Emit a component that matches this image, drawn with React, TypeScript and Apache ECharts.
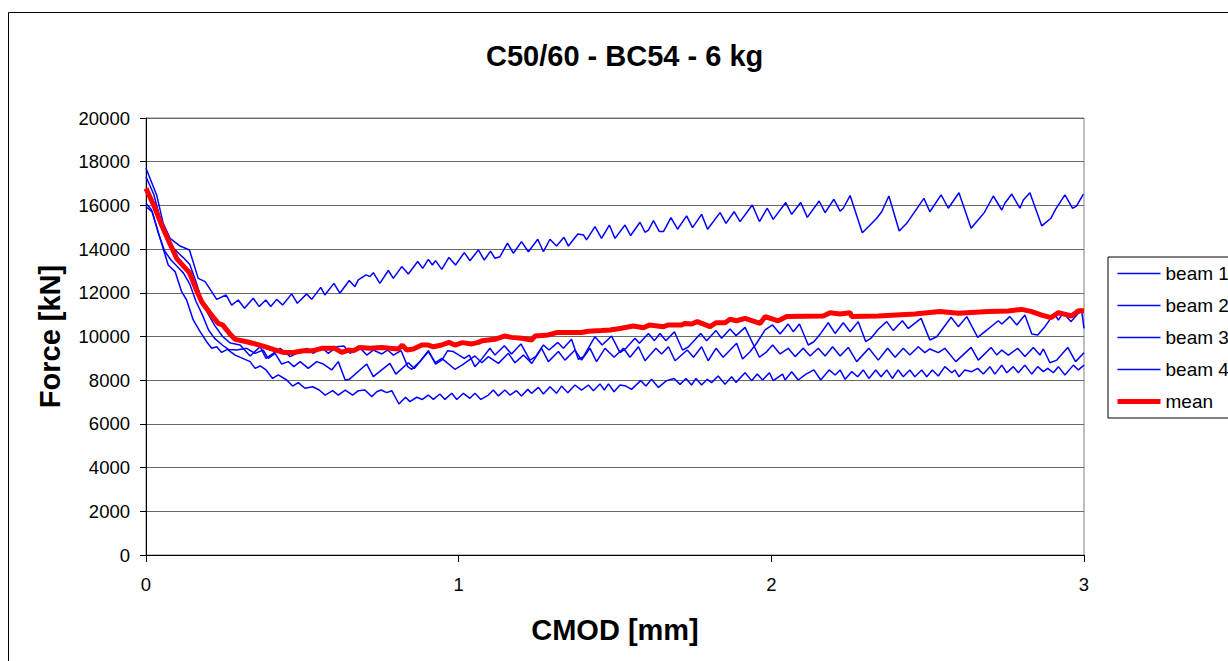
import React, { useEffect, useRef } from 'react';
import * as echarts from 'echarts';

const xTicks = [0, 1, 2, 3];
const yTicks = [0, 2000, 4000, 6000, 8000, 10000, 12000, 14000, 16000, 18000, 20000];
const seriesNames = ['beam 1', 'beam 2', 'beam 3', 'beam 4', 'mean'];

const beam1: number[][] = [[0,17700],[0.034,16480],[0.055,15180],[0.077,14490],[0.109,14140],[0.139,13960],[0.167,12660],[0.189,12510],[0.210,12050],[0.226,11700],[0.256,11900],[0.274,11440],[0.295,11670],[0.315,11290],[0.343,11750],[0.362,11370],[0.383,11670],[0.399,11370],[0.418,11700],[0.437,11440],[0.466,11950],[0.484,11520],[0.514,11950],[0.530,11700],[0.559,12250],[0.572,11900],[0.601,12430],[0.620,11980],[0.650,12560],[0.668,12280],[0.679,12590],[0.704,12820],[0.716,12740],[0.727,12920],[0.748,12430],[0.775,13020],[0.791,12660],[0.818,13200],[0.839,12860],[0.869,13430],[0.885,13120],[0.903,13530],[0.916,13270],[0.926,13470],[0.946,13070],[0.969,13620],[0.990,13270],[1.018,13840],[1.036,13470],[1.063,13960],[1.082,13500],[1.102,13910],[1.116,13580],[1.132,13650],[1.156,14270],[1.175,13810],[1.201,14340],[1.223,13880],[1.253,14450],[1.271,13880],[1.292,14450],[1.313,14140],[1.337,14540],[1.351,14140],[1.381,14690],[1.399,14650],[1.409,14420],[1.436,15030],[1.457,14490],[1.482,15100],[1.500,14490],[1.532,15100],[1.550,14620],[1.580,15230],[1.596,14770],[1.607,14870],[1.623,15300],[1.642,14800],[1.655,14800],[1.679,15440],[1.700,14910],[1.729,15520],[1.748,14980],[1.777,15590],[1.796,14910],[1.836,15670],[1.855,15180],[1.881,15710],[1.900,15260],[1.939,16020],[1.962,15260],[1.987,15870],[2.006,15360],[2.046,16130],[2.065,15590],[2.094,16130],[2.115,15450],[2.153,16200],[2.172,15670],[2.200,16280],[2.220,15740],[2.230,15870],[2.252,16450],[2.291,14750],[2.316,15100],[2.337,15410],[2.353,15710],[2.376,16430],[2.409,14830],[2.433,15180],[2.488,16320],[2.507,15710],[2.543,16480],[2.566,15870],[2.600,16580],[2.639,14950],[2.657,15260],[2.681,15670],[2.710,16430],[2.737,15790],[2.747,16100],[2.769,16520],[2.795,15870],[2.806,16250],[2.827,16580],[2.865,15060],[2.894,15410],[2.909,15820],[2.939,16480],[2.963,15870],[2.976,15970],[2.998,16520]];

const beam2: number[][] = [[0,17310],[0.025,16500],[0.045,15400],[0.065,14700],[0.085,14100],[0.105,13800],[0.12,13600],[0.14,13300],[0.16,12500],[0.18,11600],[0.2,11000],[0.22,10500],[0.245,10000],[0.27,9700],[0.301,9610],[0.333,9110],[0.365,9530],[0.384,9000],[0.407,9230],[0.429,9460],[0.461,9080],[0.482,9230],[0.514,9460],[0.535,9230],[0.562,9500],[0.583,9230],[0.610,9530],[0.633,9560],[0.653,9230],[0.679,9560],[0.706,9150],[0.727,9380],[0.754,9200],[0.773,9380],[0.791,9150],[0.816,9350],[0.837,8620],[0.850,8500],[0.876,8850],[0.903,9350],[0.926,8740],[0.946,8920],[0.965,9350],[0.983,9310],[1.018,9000],[1.034,9150],[1.052,8620],[1.071,8920],[1.100,9460],[1.116,9150],[1.146,9580],[1.169,9200],[1.199,9660],[1.228,8920],[1.246,9080],[1.271,9610],[1.289,9380],[1.317,9730],[1.335,9460],[1.361,9870],[1.383,8950],[1.399,9080],[1.436,9990],[1.459,9610],[1.489,10020],[1.516,9260],[1.535,9460],[1.564,9920],[1.578,9690],[1.607,10140],[1.626,9810],[1.644,10140],[1.663,9810],[1.690,10220],[1.716,9380],[1.735,9530],[1.774,10140],[1.793,9810],[1.823,10270],[1.841,9920],[1.868,10340],[1.887,10040],[1.916,10420],[1.962,9050],[1.985,9300],[2.004,9610],[2.028,9200],[2.054,9460],[2.076,9080],[2.102,9460],[2.124,9110],[2.150,9460],[2.172,9110],[2.196,9530],[2.220,9110],[2.246,9500],[2.273,8850],[2.312,9460],[2.342,8920],[2.372,9460],[2.396,9050],[2.422,9460],[2.443,9150],[2.470,9530],[2.491,9260],[2.507,9430],[2.534,9260],[2.555,9460],[2.590,8850],[2.639,9500],[2.662,8920],[2.703,9500],[2.721,9150],[2.737,9380],[2.758,9150],[2.788,9460],[2.811,9080],[2.838,9500],[2.859,9150],[2.870,9430],[2.891,8800],[2.913,8920],[2.948,9500],[2.973,8850],[3.0,9260]];

const beam3: number[][] = [[0,15940],[0.02,15700],[0.04,14700],[0.06,13900],[0.08,13500],[0.1,13200],[0.12,12900],[0.14,12400],[0.16,11600],[0.18,11000],[0.2,10300],[0.22,9900],[0.245,9600],[0.265,9400],[0.290,9380],[0.322,9460],[0.349,9230],[0.375,9380],[0.391,9000],[0.413,9230],[0.434,8740],[0.455,8850],[0.473,8620],[0.493,8850],[0.519,8540],[0.546,8850],[0.567,8740],[0.594,8470],[0.615,8850],[0.637,8010],[0.650,8040],[0.706,8740],[0.727,8160],[0.780,8770],[0.799,8280],[0.839,8800],[0.858,8540],[0.903,9310],[0.926,8800],[0.946,9000],[0.988,8500],[1.012,8700],[1.052,9110],[1.074,8800],[1.095,9080],[1.127,8770],[1.159,9230],[1.180,8800],[1.207,9150],[1.234,8770],[1.265,9460],[1.287,8850],[1.319,9310],[1.340,8920],[1.372,9380],[1.393,8920],[1.420,9460],[1.441,8850],[1.468,9460],[1.497,9050],[1.527,9460],[1.548,9050],[1.575,9530],[1.596,8890],[1.631,9460],[1.649,9200],[1.671,9530],[1.692,8890],[1.731,9380],[1.751,9050],[1.777,9530],[1.798,8890],[1.823,9460],[1.846,9050],[1.889,9690],[1.908,8970],[1.932,9300],[1.953,9690],[1.980,10300],[2.004,10530],[2.028,10110],[2.054,10570],[2.070,10220],[2.090,10570],[2.118,9610],[2.136,9760],[2.158,10140],[2.182,10630],[2.204,10140],[2.230,10630],[2.252,10220],[2.278,10680],[2.302,9760],[2.319,9920],[2.342,10330],[2.369,10680],[2.390,10270],[2.419,10720],[2.438,10370],[2.479,10830],[2.507,9840],[2.529,9990],[2.575,10880],[2.598,10450],[2.625,10910],[2.660,9960],[2.683,10220],[2.726,10720],[2.737,10570],[2.763,10910],[2.785,10530],[2.811,10980],[2.833,10110],[2.852,10070],[2.875,10450],[2.905,11060],[2.918,10750],[2.934,11090],[2.958,10680],[2.982,11060],[2.993,11140],[3.0,10370]];

const beam4: number[][] = [[0,16100],[0.018,15790],[0.034,15030],[0.050,14260],[0.071,13270],[0.093,12970],[0.114,12050],[0.130,11670],[0.151,10760],[0.173,10220],[0.194,9760],[0.210,9460],[0.226,9530],[0.242,9270],[0.260,9410],[0.285,9150],[0.333,8850],[0.349,8540],[0.365,8650],[0.384,8470],[0.405,8080],[0.423,8240],[0.450,8010],[0.469,7730],[0.487,7890],[0.508,7630],[0.533,7700],[0.554,7550],[0.573,7320],[0.597,7520],[0.615,7320],[0.637,7550],[0.661,7320],[0.679,7520],[0.700,7550],[0.722,7250],[0.738,7470],[0.752,7550],[0.770,7430],[0.786,7520],[0.809,6910],[0.830,7220],[0.844,7020],[0.866,7220],[0.884,7120],[0.903,7320],[0.919,7120],[0.940,7370],[0.956,7120],[0.978,7400],[0.994,7120],[1.015,7400],[1.036,7170],[1.052,7400],[1.071,7120],[1.095,7320],[1.111,7550],[1.127,7280],[1.148,7550],[1.164,7320],[1.185,7520],[1.201,7280],[1.221,7580],[1.233,7400],[1.255,7670],[1.271,7370],[1.292,7700],[1.313,7400],[1.329,7730],[1.349,7430],[1.372,7780],[1.393,7550],[1.415,7780],[1.431,7520],[1.452,7830],[1.466,7550],[1.479,7830],[1.497,7470],[1.516,7780],[1.535,7730],[1.553,7580],[1.582,7980],[1.599,7730],[1.617,8040],[1.639,7670],[1.665,7980],[1.689,8080],[1.708,7810],[1.727,8080],[1.745,7780],[1.759,8080],[1.777,7780],[1.795,8040],[1.809,7890],[1.830,8190],[1.852,7810],[1.873,8160],[1.887,7900],[1.916,8340],[1.937,7980],[1.955,8280],[1.972,8010],[1.994,8340],[2.006,7980],[2.036,8280],[2.044,8010],[2.065,8390],[2.086,8010],[2.111,8280],[2.136,8470],[2.158,8010],[2.185,8470],[2.204,8240],[2.220,8470],[2.236,8040],[2.257,8390],[2.276,8160],[2.294,8470],[2.312,8080],[2.334,8470],[2.351,8160],[2.369,8470],[2.387,8080],[2.406,8470],[2.422,8160],[2.443,8470],[2.459,8160],[2.481,8470],[2.497,8160],[2.515,8470],[2.534,8190],[2.555,8620],[2.577,8340],[2.587,8470],[2.600,8160],[2.619,8470],[2.641,8390],[2.660,8540],[2.678,8280],[2.699,8620],[2.715,8280],[2.737,8690],[2.753,8340],[2.774,8620],[2.790,8340],[2.811,8690],[2.833,8280],[2.852,8620],[2.870,8390],[2.884,8540],[2.902,8340],[2.918,8620],[2.939,8240],[2.966,8690],[2.982,8470],[3.0,8690]];

const mean: number[][] = [[0,16780],[0.029,15870],[0.050,15100],[0.071,14420],[0.098,13580],[0.117,13270],[0.139,12920],[0.157,12280],[0.178,11590],[0.205,11060],[0.231,10600],[0.245,10530],[0.267,10140],[0.285,9870],[0.322,9760],[0.375,9560],[0.407,9410],[0.439,9270],[0.471,9270],[0.503,9350],[0.535,9350],[0.562,9460],[0.604,9460],[0.626,9270],[0.647,9380],[0.663,9350],[0.684,9500],[0.717,9460],[0.754,9500],[0.780,9460],[0.807,9430],[0.820,9610],[0.834,9380],[0.855,9430],[0.882,9610],[0.903,9610],[0.919,9530],[0.946,9610],[0.969,9730],[0.988,9610],[1.012,9720],[1.042,9660],[1.063,9730],[1.076,9810],[1.095,9840],[1.116,9870],[1.146,10020],[1.170,9960],[1.202,9920],[1.233,9840],[1.244,10020],[1.287,10070],[1.313,10180],[1.351,10180],[1.393,10180],[1.415,10240],[1.457,10270],[1.484,10300],[1.516,10370],[1.559,10480],[1.591,10400],[1.610,10530],[1.655,10450],[1.671,10530],[1.713,10530],[1.724,10600],[1.745,10570],[1.763,10680],[1.804,10450],[1.823,10630],[1.852,10630],[1.868,10790],[1.889,10720],[1.916,10830],[1.964,10600],[1.980,10910],[2.022,10720],[2.049,10910],[2.166,10940],[2.188,11090],[2.220,11030],[2.252,11090],[2.257,10910],[2.342,10940],[2.459,11030],[2.539,11140],[2.598,11060],[2.694,11140],[2.758,11170],[2.801,11240],[2.833,11140],[2.865,10980],[2.894,10860],[2.918,11090],[2.960,10940],[2.982,11180],[3.0,11180]];

const FONT = "'Liberation Sans', Arial, sans-serif";

export default function App() {
  const ref = useRef<HTMLDivElement>(null);
  useEffect(() => {
    const chart = echarts.init(ref.current!, null, { renderer: 'svg' });
    const beams = [beam1, beam2, beam3, beam4];
    const series: any[] = beams.map((d, i) => ({
      name: seriesNames[i],
      type: 'line',
      data: d,
      symbol: 'none',
      showSymbol: false,
      lineStyle: { color: '#0000ff', width: 1.5 },
      itemStyle: { color: '#0000ff' },
      z: 2,
    }));
    series.push({
      name: seriesNames[4],
      type: 'line',
      data: mean,
      symbol: 'none',
      showSymbol: false,
      lineStyle: { color: '#ff0000', width: 5 },
      itemStyle: { color: '#ff0000' },
      z: 3,
    });
    const legendData = seriesNames.map((n, i) => ({
      name: n,
      lineStyle: i === 4 ? { color: '#ff0000', width: 5 } : { color: '#0000ff', width: 1.5 },
      itemStyle: { opacity: 0 },
    }));
    chart.setOption({
      animation: false,
      backgroundColor: '#ffffff',
      textStyle: { fontFamily: FONT, color: '#000' },
      title: {
        text: 'C50/60 - BC54 - 6 kg',
        left: 481,
        top: 36,
        textStyle: { fontFamily: FONT, fontSize: 29, fontWeight: 'bold', color: '#000' },
      },
      legend: {
        orient: 'vertical',
        left: 1108,
        top: 257,
        data: legendData,
        itemWidth: 43,
        itemHeight: 12,
        itemGap: 13,
        padding: [7, 8, 7, 7],
        borderColor: '#000',
        borderWidth: 1,
        backgroundColor: '#fff',
        itemStyle: { opacity: 0 },
        textStyle: { fontFamily: FONT, fontSize: 19, color: '#000' },
      },
      grid: {
        left: 146,
        right: 144,
        top: 118,
        bottom: 106,
        show: true,
        borderColor: '#808080',
        borderWidth: 1,
        backgroundColor: 'transparent',
      },
      xAxis: {
        type: 'value',
        min: xTicks[0],
        max: xTicks[xTicks.length - 1],
        interval: 1,
        axisLine: { show: true, lineStyle: { color: '#000', width: 1 } },
        axisTick: { show: true, length: 7, lineStyle: { color: '#000' } },
        axisLabel: { fontFamily: FONT, fontSize: 18.5, color: '#000', margin: 20, formatter: (v: number) => String(v) },
        splitLine: { show: false },
        name: 'CMOD [mm]',
        nameLocation: 'middle',
        nameGap: 60,
        nameTextStyle: { fontFamily: FONT, fontSize: 29, fontWeight: 'bold', color: '#000' },
      },
      yAxis: {
        type: 'value',
        min: yTicks[0],
        max: yTicks[yTicks.length - 1],
        interval: 2000,
        axisLine: { show: true, lineStyle: { color: '#000', width: 1 } },
        axisTick: { show: true, length: 6, lineStyle: { color: '#000' } },
        axisLabel: { fontFamily: FONT, fontSize: 18.5, color: '#000', margin: 16, formatter: (v: number) => String(v) },
        splitLine: { show: true, lineStyle: { color: '#6a6a6a', width: 1 } },
        name: 'Force [kN]',
        nameLocation: 'middle',
        nameGap: 82,
        nameTextStyle: { fontFamily: FONT, fontSize: 29, fontWeight: 'bold', color: '#000' },
      },
      graphic: [
        {
          type: 'rect',
          silent: true,
          z: -10,
          shape: { x: 8.5, y: 12.5, width: 1400, height: 800 },
          style: { fill: 'none', stroke: '#000', lineWidth: 1 },
        },
      ],
      series,
    });
    return () => chart.dispose();
  }, []);
  return (
    <div
      ref={ref}
      style={{ position: 'fixed', left: 0, top: 0, width: 1228, height: 661, background: '#fff' }}
    />
  );
}
